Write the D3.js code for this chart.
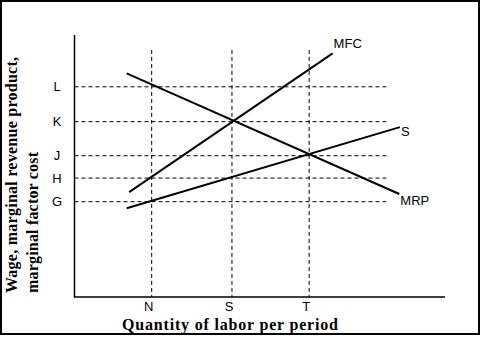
<!DOCTYPE html>
<html>
<head>
<meta charset="utf-8">
<script src="https://cdn.jsdelivr.net/npm/d3@7"></script>
<style>
  body { margin: 0; background: #fff; }
  svg { display: block; }
</style>
</head>
<body>
<div id="chart"></div>
<script>
// chart values (abstract units)
const xTicks = ["N", "S", "T"];
const xTickValues = [2.5, 5.1, 7.6];
const yTicks = ["L", "K", "J", "H", "G"];
const yTickValues = [10.43, 8.7, 7.01, 5.9, 4.73];
const curveNames = ["MRP", "MFC", "S"];
const curveX = [[1.69, 10.52], [1.77, 8.36], [1.69, 10.54]];
const curveY = [[11.1, 5.11], [5.2, 12.09], [4.4, 8.43]];
const xMax = 12, yMax = 13;
const guideXEnd = 10.1, guideYTop = 12.26;

const width = 482, height = 338;
const sans = "Arial, 'Liberation Sans', sans-serif";
const serif = "'Times New Roman', 'Liberation Serif', serif";

let svg = d3.select("#chart")
    .append("svg")
    .attr("width", width)
    .attr("height", height);

svg.append("rect")
    .attr("x", 1).attr("y", 1)
    .attr("width", 478).attr("height", 333)
    .attr("fill", "#fff")
    .attr("stroke", "#000")
    .attr("stroke-width", 2);

let x = d3.scaleLinear().domain([0, xMax]).range([74.5, 445]);
let y = d3.scaleLinear().domain([0, yMax]).range([297, 35]);

// dashed guides
svg.selectAll("line.hguide").data(yTickValues).enter()
    .append("line")
    .attr("class", "hguide")
    .attr("x1", x(0)).attr("x2", x(guideXEnd))
    .attr("y1", d => y(d)).attr("y2", d => y(d))
    .attr("stroke", "#000")
    .attr("stroke-dasharray", "4,3");

svg.selectAll("line.vguide").data(xTickValues).enter()
    .append("line")
    .attr("class", "vguide")
    .attr("x1", d => x(d)).attr("x2", d => x(d))
    .attr("y1", y(guideYTop)).attr("y2", y(0))
    .attr("stroke", "#000")
    .attr("stroke-dasharray", "4,3");

// axes
svg.append("path")
    .attr("d", `M${x(0)},${y(yMax)}V${y(0)}H${x(xMax)}`)
    .attr("fill", "none")
    .attr("stroke", "#000")
    .attr("stroke-width", 1.5);

// curves
let line = d3.line().x(d => x(d[0])).y(d => y(d[1]));
let curves = curveNames.map((name, i) => ({
    name: name,
    pts: curveX[i].map((v, j) => [v, curveY[i][j]])
}));

svg.selectAll("path.curve").data(curves).enter()
    .append("path")
    .attr("class", "curve")
    .attr("d", d => line(d.pts))
    .attr("fill", "none")
    .attr("stroke", "#000")
    .attr("stroke-width", 2);

// curve labels, placed off the end of each line
let labelOffset = { MRP: [1, 11], MFC: [1, -5], S: [1, 9] };
svg.selectAll("text.curve-label").data(curves).enter()
    .append("text")
    .attr("class", "curve-label")
    .attr("x", d => x(d.pts[1][0]) + labelOffset[d.name][0])
    .attr("y", d => y(d.pts[1][1]) + labelOffset[d.name][1])
    .style("font-family", sans)
    .style("font-size", "13px")
    .text(d => d.name);

// tick letters
svg.selectAll("text.ytick").data(yTicks).enter()
    .append("text")
    .attr("class", "ytick")
    .attr("x", 57)
    .attr("y", (d, i) => y(yTickValues[i]) + 4.5)
    .style("text-anchor", "middle")
    .style("font-family", sans)
    .style("font-size", "13px")
    .text(d => d);

svg.selectAll("text.xtick").data(xTicks).enter()
    .append("text")
    .attr("class", "xtick")
    .attr("x", (d, i) => x(xTickValues[i]) - 3)
    .attr("y", 311)
    .style("text-anchor", "middle")
    .style("font-family", sans)
    .style("font-size", "13px")
    .text(d => d);

// axis titles
svg.append("text")
    .attr("x", 122)
    .attr("y", 330)
    .attr("textLength", 216)
    .attr("lengthAdjust", "spacing")
    .style("font-family", serif)
    .style("font-weight", "bold")
    .style("font-size", "16px")
    .text("Quantity of labor per period");

let yTitle = svg.append("g")
    .attr("transform", "translate(17, 293) rotate(-90)")
    .style("font-family", serif)
    .style("font-weight", "bold")
    .style("font-size", "16px");

yTitle.append("text")
    .attr("x", 0).attr("y", 0)
    .attr("textLength", 236)
    .attr("lengthAdjust", "spacing")
    .text("Wage, marginal revenue product,");

yTitle.append("text")
    .attr("x", 0).attr("y", 21)
    .attr("textLength", 141)
    .attr("lengthAdjust", "spacing")
    .text("marginal factor cost");
</script>
</body>
</html>
